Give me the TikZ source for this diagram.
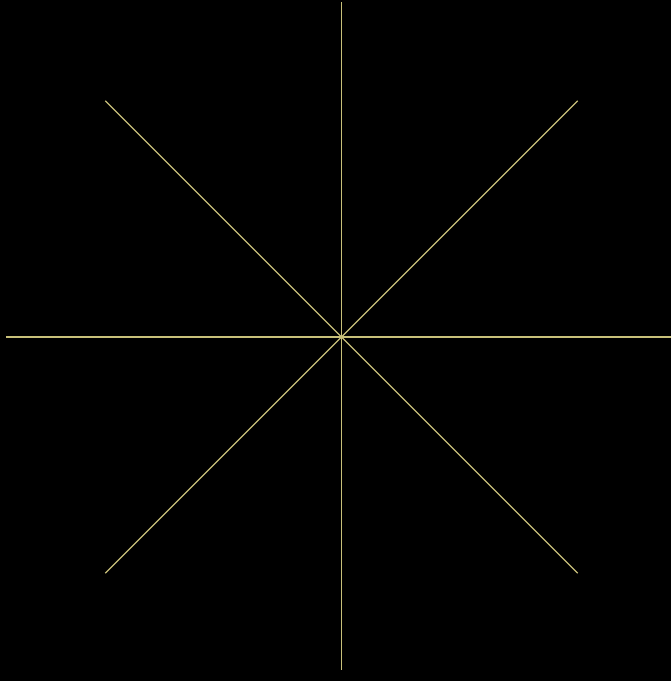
\documentclass[tikz,border=0pt]{standalone}
\usepackage{tikz}
\definecolor{Ray}{HTML}{C8C07A}
\definecolor{Night}{HTML}{000000}

\begin{document}
\begin{tikzpicture}[x=1pt,y=-1pt]
    \fill[Night] (0,0) rectangle (671,681);
    \useasboundingbox (0,0) rectangle (671,681);
    \clip (0,0) rectangle (671,681);
    \coordinate (hub) at (341.5,337);
    \foreach \ang/\len in {0/334,45/334,90/333,135/334,180/336,225/334,270/335,315/334}{
      \draw[Ray,line width=1.3pt] (hub) -- ++(\ang:\len);
    }
  \end{tikzpicture}
\end{document}
